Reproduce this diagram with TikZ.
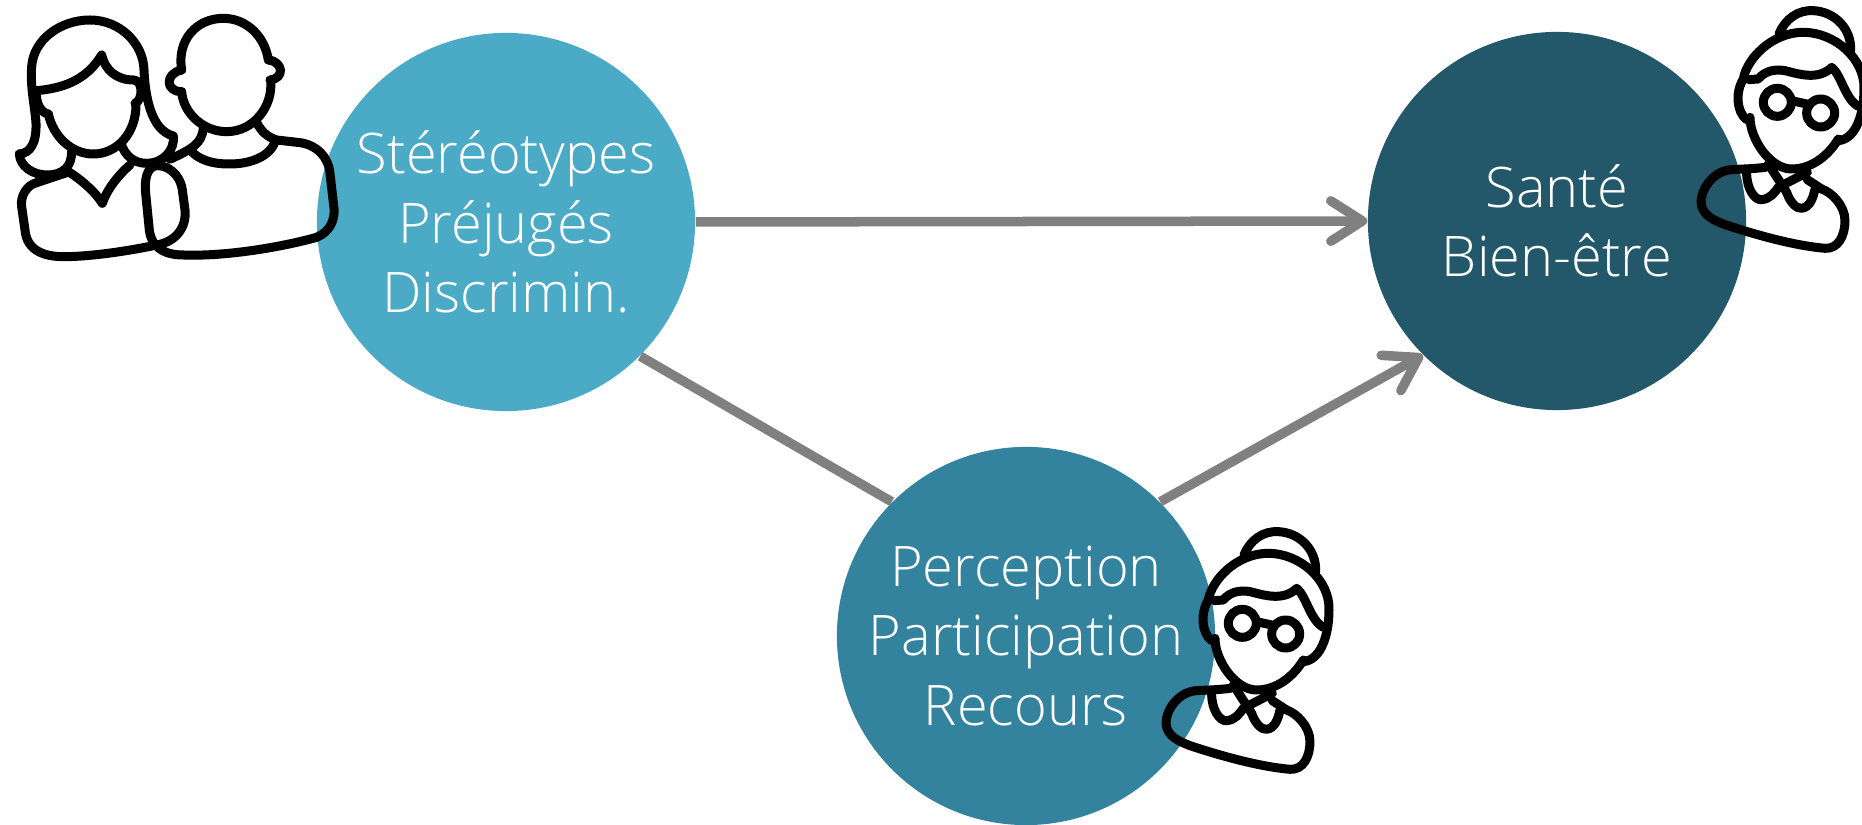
\documentclass[tikz,border=0pt]{standalone}
\usepackage{fontspec}
\setmainfont{Open Sans}[UprightFont=* Light]
\usetikzlibrary{arrows.meta}

\definecolor{stereoblue}{HTML}{4BABC6}
\definecolor{perceptblue}{HTML}{33839E}
\definecolor{santeblue}{HTML}{225869}

\tikzset{
  bubble/.style={circle,minimum size=3.78cm,inner sep=0pt,text=white,align=center,
    font=\fontsize{15.9}{19.8}\selectfont},
  link/.style={draw=gray,line width=0.095cm},
  barb/.style={-{Straight Barb[length=9pt,width=11.5pt,round]}},
  icon/.style={line width=0.09cm,line cap=round,line join=round},
  elder/.pic={
    \begin{scope}[scale=1/3,icon]
    %% Bun and hair
    \draw (312,135) .. controls (330,90) and (370,62) .. (415,65) .. controls (480,68) and (530,120) .. (527,185);
    \draw (215,392) .. controls (185,370) and (180,310) .. (205,270) .. controls (215,210) and (290,130) .. (385,130) .. controls (480,130) and (570,210) .. (567,300) .. controls (567,370) and (545,450) .. (490,455);
    \draw (222,272) -- (250,270) .. controls (270,245) and (300,240) .. (330,245) .. controls (370,255) and (430,275) .. (470,235) .. controls (500,260) and (510,330) .. (550,352);
    %% Face
    \draw (225,385) .. controls (225,450) and (285,540) .. (350,540) .. controls (410,540) and (460,500) .. (490,450);
    %% Glasses
    \draw (307,340) circle (42);
    \draw (437,372) circle (42);
    \draw (350,335) -- (395,345);
    %% Collar
    \draw (280,525) -- (335,610);
    \draw (310,595) -- (397,550);
    \draw (215,552) .. controls (215,600) and (240,635) .. (260,632) .. controls (285,630) and (300,610) .. (310,595);
    \draw (335,610) .. controls (345,640) and (365,660) .. (380,658) .. controls (405,655) and (415,625) .. (420,600);
    %% Body
    \draw (272,535) .. controls (230,540) and (200,540) .. (170,542) .. controls (115,545) and (78,600) .. (78,640) .. controls (80,680) and (120,695) .. (150,707) .. controls (250,740) and (360,770) .. (450,778) .. controls (490,780) and (510,740) .. (510,695) .. controls (510,650) and (470,610) .. (440,600) -- (397,572);
    \end{scope}
  }
}

\begin{document}
\begin{tikzpicture}[x=0.01cm,y=-0.01cm]
\useasboundingbox (0,0) rectangle (1862,825);

%% Circles
\node[bubble,fill=stereoblue] (stereo) at (506,222) {Stéréotypes\\Préjugés\\Discrimin.};
\node[bubble,fill=santeblue] (sante) at (1557,221) {Santé\\Bien-être};
\node[bubble,fill=perceptblue] (percep) at (1026,636) {Perception\\Participation\\Recours};

%% Links
\draw[link,barb] (stereo.east) -- (sante.west);
\draw[link] (stereo.-45) -- (percep.135);
\draw[link,barb] (percep.45) -- (sante.225);

%% Couple
\begin{scope}[scale=1/3,icon]
% woman
\draw (58,462) .. controls (90,460) and (110,430) .. (108,370) .. controls (105,320) and (90,260) .. (95,200) .. controls (100,120) and (180,60) .. (270,60) .. controls (360,60) and (430,130) .. (432,210) .. controls (435,280) and (450,390) .. (520,408) .. controls (525,450) and (490,490) .. (440,490) .. controls (400,490) and (375,465) .. (365,435);
\draw (58,462) .. controls (60,500) and (100,525) .. (140,525) .. controls (190,525) and (215,500) .. (215,455);
\draw (110,272) .. controls (190,265) and (260,240) .. (305,165) .. controls (315,210) and (350,240) .. (400,240) .. controls (430,240) and (430,300) .. (405,310);
\draw (110,272) .. controls (105,310) and (125,340) .. (145,342);
\draw (145,342) .. controls (160,410) and (215,462) .. (280,462) .. controls (350,462) and (410,400) .. (408,310);
\draw (205,515) .. controls (245,540) and (285,575) .. (307,610) .. controls (320,570) and (355,525) .. (390,495);
% arms and bodies
\draw (200,518) -- (110,548) .. controls (80,555) and (60,590) .. (65,620) -- (75,690) .. controls (80,750) and (130,770) .. (190,770) .. controls (280,770) and (400,750) .. (470,735) .. controls (530,725) and (560,680) .. (555,630) -- (547,570) .. controls (540,520) and (500,495) .. (470,497) .. controls (440,500) and (433,540) .. (437,580) -- (447,680) .. controls (450,740) and (490,765) .. (550,765) .. controls (680,770) and (850,740) .. (950,712) .. controls (990,695) and (1005,660) .. (1002,625) -- (990,520) .. controls (985,470) and (950,435) .. (900,428) -- (830,420) .. controls (800,410) and (785,395) .. (770,368);
% man
\draw (545,210) .. controls (530,120) and (590,55) .. (670,55) .. controls (740,55) and (795,110) .. (805,180);
\draw (805,180) .. controls (850,185) and (855,235) .. (810,240);
\draw (812,240) .. controls (820,320) and (760,395) .. (680,395) .. controls (610,395) and (550,340) .. (545,275);
\draw (545,210) .. controls (495,220) and (495,275) .. (545,275);
\draw (610,385) .. controls (605,430) and (580,445) .. (510,478);
\draw (575,455) .. controls (610,490) and (660,492) .. (690,492) .. controls (750,492) and (810,470) .. (825,425);
\end{scope}

%% Elders
\pic at (1140,510) {elder};
\pic at (1675,-11) {elder};

\end{tikzpicture}
\end{document}
